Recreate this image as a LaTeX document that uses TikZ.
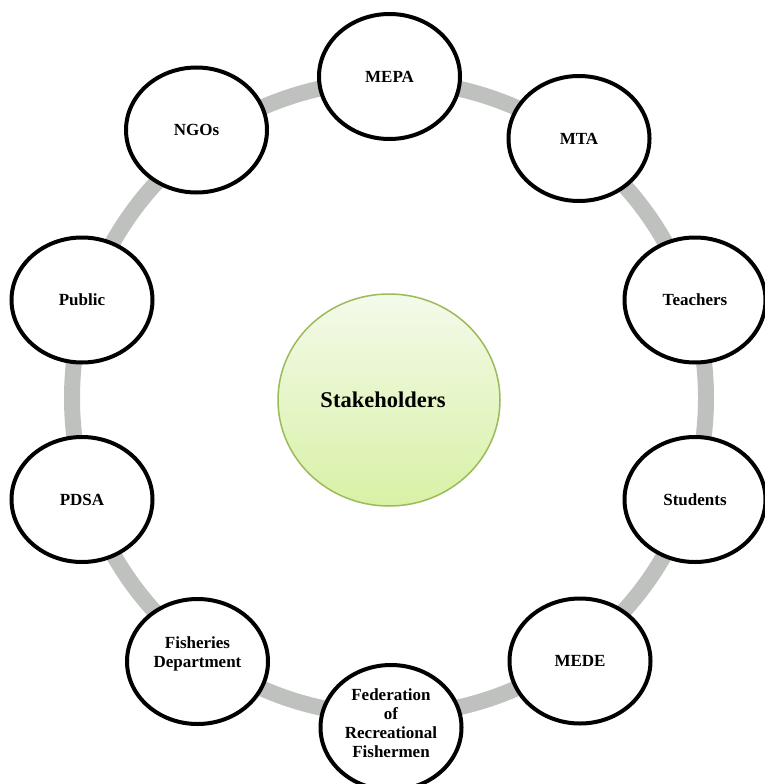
\documentclass[tikz,border=0pt]{standalone}
\usepackage{fontspec}
\setmainfont{Liberation Serif}
\usetikzlibrary{shapes.geometric}
\definecolor{ringgrey}{HTML}{BFC1BF}
\definecolor{stkborder}{HTML}{9BBB59}
\definecolor{stktop}{HTML}{F4FAEA}
\definecolor{stkbot}{HTML}{D8F1A6}
\tikzset{
  actor/.style={ellipse, draw=black, line width=4pt, fill=white,
    minimum width=141pt, minimum height=125pt, inner sep=0pt,
    align=center, font=\fontsize{17}{19}\selectfont\bfseries},
  hub/.style={ellipse, draw=stkborder, line width=1.5pt,
    top color=stktop, bottom color=stkbot,
    minimum width=222pt, minimum height=212pt, inner sep=0pt,
    font=\fontsize{22.5}{26}\selectfont\bfseries},
  ring/.style={draw=ringgrey, line width=16pt}
}
\begin{document}
\begin{tikzpicture}[x=1pt,y=-1pt]
\useasboundingbox (0,0) rectangle (764,784);
\coordinate (rc) at (389,398);
\draw[ring] (rc) circle (317pt);
\node[hub] (stk) at (389,400) {Stakeholders\hspace*{12pt}};
\node[actor] (mepa) at (389.5,76.5) {MEPA};
\node[actor] (mta) at (579,138.5) {MTA};
\node[actor] (teach) at (695,300) {Teachers};
\node[actor] (stud) at (695,499.5) {Students};
\node[actor] (mede) at (580,661) {MEDE};
\node[actor] (fed) at (391,727.5) {Federation\\of\\Recreational\\Fishermen\\[-10pt]};
\node[actor] (fish) at (197.5,661.5) {Fisheries\\Department\\[-1pt]};
\node[actor] (pdsa) at (82,499.5) {PDSA};
\node[actor] (pub) at (82,300) {Public};
\node[actor] (ngo) at (196.5,130) {NGOs};
\end{tikzpicture}
\end{document}
